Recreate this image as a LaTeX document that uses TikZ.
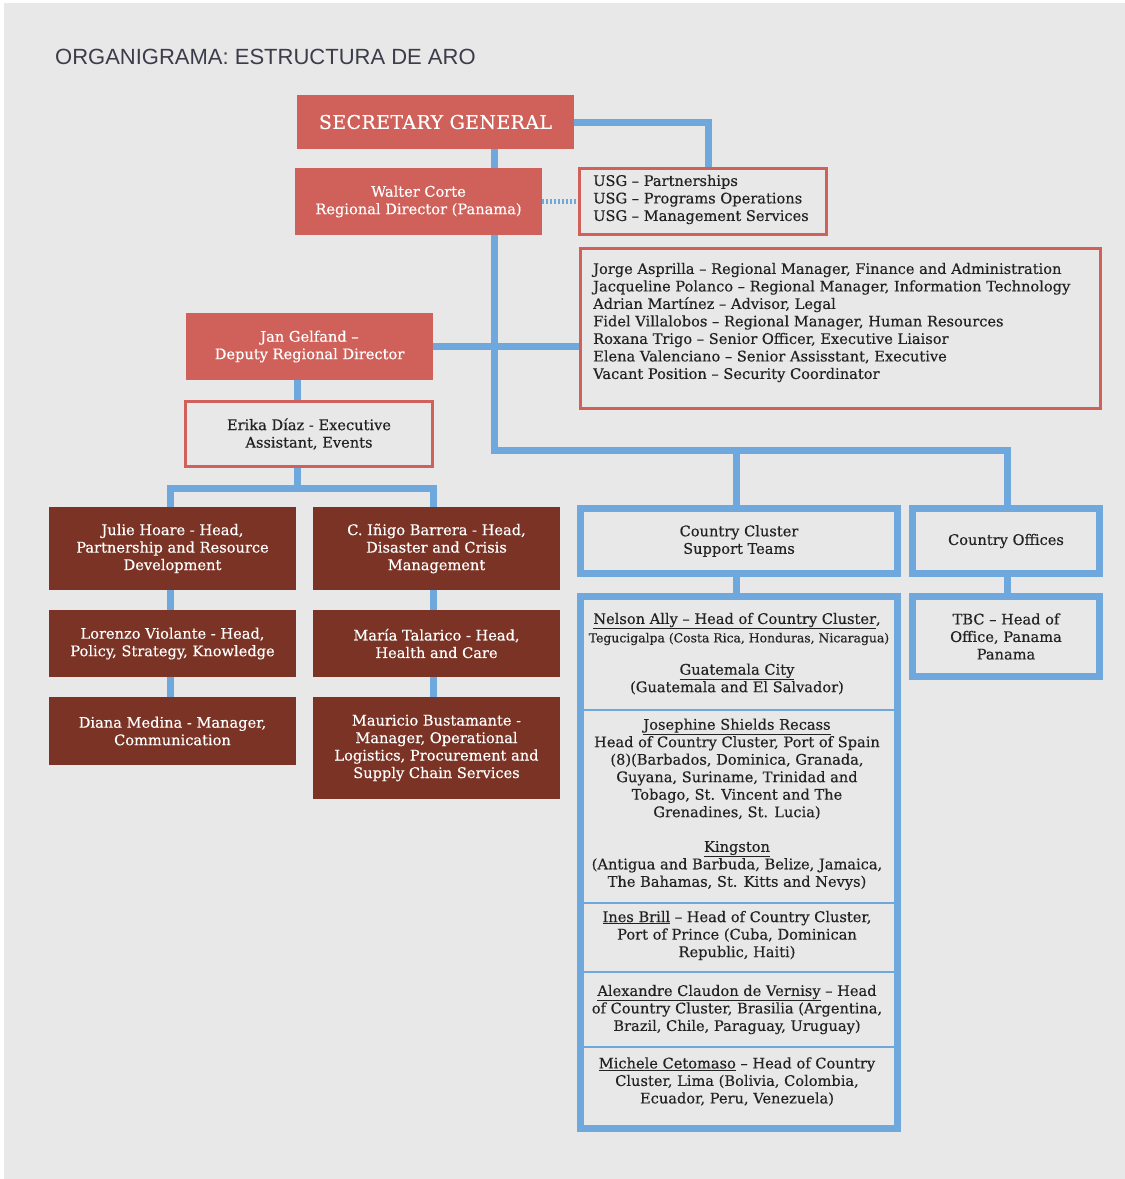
\documentclass[tikz,border=0pt]{standalone}
\usepackage{fontspec}
\setmainfont[FakeBold=0.35]{DejaVu Serif}
\newfontfamily\titlefont{Liberation Sans}
\usetikzlibrary{calc}
\definecolor{bgc}{HTML}{E8E8E8}
\definecolor{rfill}{HTML}{CF615A}
\definecolor{brn}{HTML}{7A3324}
\definecolor{blu}{HTML}{6FA8DC}
\definecolor{txt}{HTML}{222222}
\definecolor{ttl}{HTML}{3C3C4A}
\newcommand\mybody{\fontsize{14.6}{17.5}\selectfont}
\newcommand\mysmall{\fontsize{12.4}{17.5}\selectfont}
\tikzset{
  redfill/.style={fill=rfill, text=white, inner sep=0pt, align=center, font=\mybody},
  redline/.style={draw=rfill, line width=3pt, inner sep=0pt, align=center, text=txt, font=\mybody},
  brownbox/.style={fill=brn, text=white, inner sep=0pt, align=center, font=\mybody, minimum width=247pt},
  bluebox/.style={draw=blu, line width=7pt, inner sep=0pt, align=center, text=txt, font=\mybody},
  conn/.style={draw=blu, line width=7pt},
  sepline/.style={draw=blu, line width=1.5pt},
  lbl/.style={inner sep=0pt, align=center, text=txt, font=\mybody},
  lbll/.style={inner sep=0pt, align=left, text=txt, font=\mybody}
}
\begin{document}
\begin{tikzpicture}[x=1pt,y=-1pt]
\useasboundingbox (0,0) rectangle (1125,1179);
\fill[white] (0,0) rectangle (1125,1179);
\fill[bgc] (4,3) rectangle (1125,1179);

% title
\node[anchor=west, inner sep=0pt, text=ttl, font=\titlefont\fontsize{22}{26}\selectfont] (title) at (55,57) {ORGANIGRAMA: ESTRUCTURA DE ARO};

% top boxes
\node[redfill, minimum width=277pt, minimum height=54pt, font=\fontsize{19}{22}\selectfont\addfontfeatures{LetterSpace=2}] (sg) at (435.5,122) {SECRETARY GENERAL};
\node[redfill, minimum width=247pt, minimum height=67pt] (wc) at (418.5,201.5) {Walter Corte\\Regional Director (Panama)};
\node[redline, minimum width=247pt, minimum height=66pt] (usg) at (703,201.5) {};
\node[lbll, anchor=west] (usgt) at (593,199.5) {USG – Partnerships\\USG – Programs Operations\\USG – Management Services};
\node[redline, minimum width=520pt, minimum height=160pt] (staff) at (840.5,328.5) {};
\node[lbll, anchor=west] (stafft) at (593,322.5) {Jorge Asprilla – Regional Manager, Finance and Administration\\
Jacqueline Polanco – Regional Manager, Information Technology\\
Adrian Martínez – Advisor, Legal\\
Fidel Villalobos – Regional Manager, Human Resources\\
Roxana Trigo – Senior Officer, Executive Liaisor\\
Elena Valenciano – Senior Assisstant, Executive\\
Vacant Position – Security Coordinator};
\node[redfill, minimum width=247pt, minimum height=67pt] (jan) at (309.5,346.5) {Jan Gelfand –\\Deputy Regional Director};
\node[redline, minimum width=247pt, minimum height=65pt] (erika) at (309,434) {Erika Díaz - Executive\\Assistant, Events};

% brown boxes
\node[brownbox, minimum height=83pt] (julie) at (172.5,548.5) {Julie Hoare - Head,\\Partnership and Resource\\Development};
\node[brownbox, minimum height=83pt] (inigo) at (436.5,548.5) {C. Iñigo Barrera - Head,\\Disaster and Crisis\\Management};
\node[brownbox, minimum height=67pt] (lorenzo) at (172.5,643.5) {Lorenzo Violante - Head,\\Policy, Strategy, Knowledge};
\node[brownbox, minimum height=67pt] (maria) at (436.5,643.5) {María Talarico - Head,\\Health and Care};
\node[brownbox, minimum height=68pt] (diana) at (172.5,731) {Diana Medina - Manager,\\Communication};
\node[brownbox, minimum height=102pt] (mauricio) at (436.5,748) {Mauricio Bustamante -\\Manager, Operational\\Logistics, Procurement and\\Supply Chain Services};

% blue boxes
\node[bluebox, minimum width=317pt, minimum height=65pt] (cct) at (739,541) {Country Cluster\\Support Teams};
\node[bluebox, minimum width=187pt, minimum height=65pt] (co) at (1006,541) {Country Offices};
\node[bluebox, minimum width=317pt, minimum height=532pt] (list) at (739,862.5) {};
\node[bluebox, minimum width=187pt, minimum height=80pt] (tbc) at (1006,636.5) {TBC – Head of\\Office, Panama\\Panama};

% separators
\foreach \yy/\nm in {710/s1,903/s2,972/s3,1047/s4}{
  \coordinate (\nm) at (739,\yy);
  \draw[sepline] (list.west |- \nm) -- (list.east |- \nm);
}

% list texts
\node[lbl] (n1a) at (737,621) {\underline{Nelson Ally – Head of Country Cluster},};
\node[lbl, font=\mysmall] (n1b) at (739,639) {Tegucigalpa (Costa Rica, Honduras, Nicaragua)};
\node[lbl] (n1c) at (737,679) {\underline{Guatemala City}\\(Guatemala and El Salvador)};
\node[lbl] (n2a) at (737,769) {\underline{Josephine Shields Recass}\\Head of Country Cluster, Port of Spain\\(8)(Barbados, Dominica, Granada,\\Guyana, Suriname, Trinidad and\\Tobago, St. Vincent and The\\Grenadines, St. Lucia)};
\node[lbl] (n2b) at (737,865.5) {\underline{Kingston}\\(Antigua and Barbuda, Belize, Jamaica,\\The Bahamas, St. Kitts and Nevys)};
\node[lbl] (n3) at (737,935.5) {\underline{Ines Brill} – Head of Country Cluster,\\Port of Prince (Cuba, Dominican\\Republic, Haiti)};
\node[lbl] (n4) at (737,1009.5) {\underline{Alexandre Claudon de Vernisy} – Head\\of Country Cluster, Brasilia (Argentina,\\Brazil, Chile, Paraguay, Uruguay)};
\node[lbl] (n5) at (737,1081.5) {\underline{Michele Cetomaso} – Head of Country\\Cluster, Lima (Bolivia, Colombia,\\Ecuador, Peru, Venezuela)};

% connector helper coordinates
\coordinate (sx) at (494,450);
\coordinate (ux) at (708,0);
\coordinate (jx) at (297,0);
\coordinate (lb) at (170,488);
\coordinate (rb) at (433,488);
\coordinate (bx) at (736,450);
\coordinate (ox) at (1007,450);

% connectors
\draw[conn] (sg.east) -| (ux |- usg.north);
\draw[conn] (sg.south -| sx) -- (wc.north -| sx);
\draw[blu, line width=5pt, dash pattern=on 2pt off 2pt] (wc.east) -- (wc.east -| usg.west);
\draw[conn] (wc.south -| sx) -- (sx) -- (ox) -- (ox |- co.north);
\draw[conn] (bx) -- (bx |- cct.north);
\draw[conn] (jan.east) -- (jan.east -| staff.west);
\draw[conn] (jan.south -| jx) -- (erika.north -| jx);
\draw[conn] (erika.south -| jx) -- (jx |- lb);
\draw[conn] (julie.north -| lb) -- (lb) -- (rb) -- (inigo.north -| rb);
\draw[conn] (julie.south -| lb) -- (lorenzo.north -| lb);
\draw[conn] (lorenzo.south -| lb) -- (diana.north -| lb);
\draw[conn] (inigo.south -| rb) -- (maria.north -| rb);
\draw[conn] (maria.south -| rb) -- (mauricio.north -| rb);
\draw[conn] (cct.south -| bx) -- (list.north -| bx);
\draw[conn] (co.south -| ox) -- (tbc.north -| ox);
\end{tikzpicture}
\end{document}
